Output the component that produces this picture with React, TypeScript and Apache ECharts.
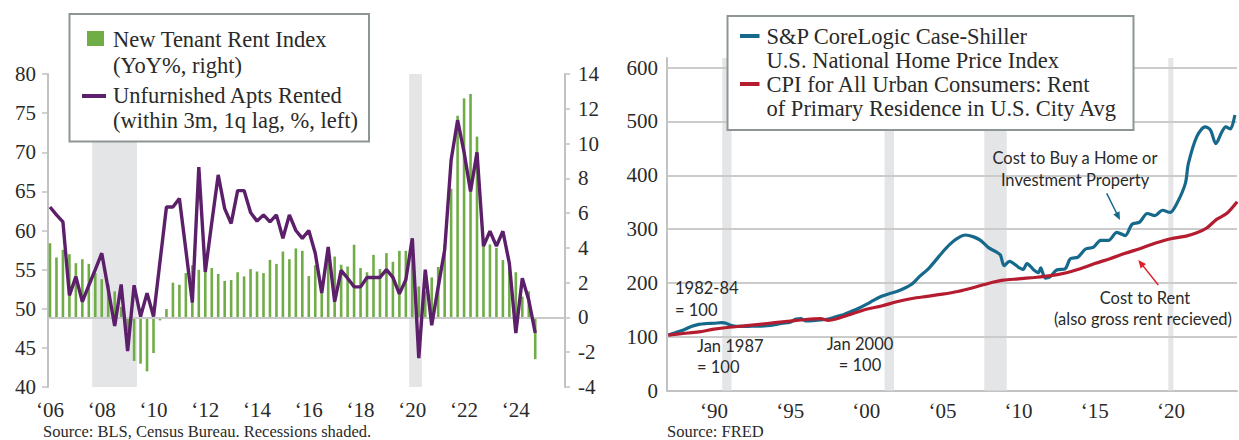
import React, { useEffect, useRef } from "react";
import * as echarts from "echarts";

// ---------------- Left panel: quarterly data starting 2006 Q1 ----------------
const firstQuarterYear = 2006;
// New Tenant Rent Index, YoY % (right axis)
const newTenantRentYoY = [
  4.27, 3.45, 3.89, 3.64, 3.12, 3.35, 3.08, 2.55, 2.2, 1.9,
  1.5, 0.6, -0.8, -2.5, -2.66, -3.1, -2.05, -0.17, 0.48, 2.0,
  1.88, 2.55, 3.0, 2.74, 2.7, 2.84, 2.5, 2.1, 2.15, 2.6,
  2.36, 2.78, 2.64, 2.55, 3.31, 3.08, 3.79, 3.35, 3.97, 3.83,
  2.38, 3.0, 2.07, 3.5, 3.5, 3.03, 2.93, 4.18, 2.84, 2.6,
  3.6, 2.78, 3.7, 3.2, 3.83, 3.83, 4.0, 1.78, 1.5, 2.3,
  2.9, 4.2, 7.4, 11.6, 12.6, 12.85, 10.4, 4.5, 4.2, 4.0,
  3.3, 2.9, 2.6, 1.2, 1.5, -2.4,
];
// Unfurnished Apts Rented within 3 months, 1q lag, % (left axis)
const unfurnishedAptsRented = [
  63.0, 62.0, 61.1, 51.7, 54.1, 50.9, 53.0, 55.0, 57.1, 52.5,
  47.8, 53.1, 44.6, 53.0, 49.0, 52.0, 49.0, 56.0, 63.0, 63.0,
  64.1, 57.5, 50.8, 68.1, 54.7, 61.0, 67.1, 62.8, 60.9, 65.1,
  65.1, 62.3, 61.2, 62.0, 61.1, 62.0, 59.0, 62.0, 60.0, 59.0,
  60.0, 57.1, 52.0, 57.9, 50.9, 54.9, 53.9, 52.8, 52.8, 54.0,
  54.0, 54.0, 55.0, 54.0, 51.9, 53.7, 59.0, 43.7, 55.0, 47.9,
  52.8, 57.5, 69.0, 74.1, 70.0, 65.0, 70.0, 58.0, 59.9, 58.0,
  59.9, 55.8, 46.9, 53.9, 51.1, 46.9,
];
const leftYearTicks = [2006, 2008, 2010, 2012, 2014, 2016, 2018, 2020, 2022, 2024];
const leftRecessions: [number, number][] = [
  [2007.63, 2009.36],
  [2019.88, 2020.37],
];

// ---------------- Right panel ----------------
const caseShiller: [number, number][] = [
  [1987.0, 103], [1987.5, 108], [1988.0, 112.5], [1988.5, 119], [1989.0, 123],
  [1989.5, 124.5], [1990.0, 125], [1990.5, 126], [1990.8, 125], [1991.05, 121.5],
  [1991.5, 119], [1992.0, 119], [1992.5, 119.5], [1993.0, 119.5], [1993.5, 120.5],
  [1994.0, 122.5], [1994.5, 125], [1995.0, 127], [1995.4, 133], [1995.7, 133.5],
  [1996.0, 129.5], [1996.5, 130], [1997.0, 131], [1997.5, 133], [1998.0, 137],
  [1998.5, 141], [1999.0, 147], [1999.5, 153], [2000.0, 160], [2000.5, 168],
  [2001.0, 175], [2001.5, 180], [2002.0, 184], [2002.5, 190], [2003.0, 198],
  [2003.5, 212], [2004.0, 224], [2004.5, 240], [2005.0, 257], [2005.5, 272],
  [2006.0, 283], [2006.5, 289], [2007.0, 286], [2007.5, 279], [2008.0, 266],
  [2008.5, 258], [2008.8, 252], [2009.05, 232], [2009.4, 240], [2010.0, 229],
  [2010.3, 225], [2010.55, 236], [2011.0, 224], [2011.3, 219], [2011.45, 228],
  [2011.75, 209], [2012.05, 211], [2012.5, 224], [2013.05, 226], [2013.4, 245],
  [2013.9, 248], [2014.4, 263], [2014.9, 266], [2015.4, 279], [2015.9, 279],
  [2016.45, 294], [2017.0, 288], [2017.45, 309], [2017.95, 313], [2018.45, 329],
  [2018.95, 325], [2019.45, 335], [2019.95, 331], [2020.4, 348], [2020.95, 385],
  [2021.15, 422], [2021.7, 472], [2022.25, 490], [2022.6, 484], [2022.95, 459],
  [2023.35, 481], [2023.6, 490], [2023.9, 486], [2024.2, 512],
];
const cpiRent: [number, number][] = [
  [1987.0, 103], [1988.0, 106], [1989.0, 109], [1990.0, 114], [1991.0, 117.5],
  [1992.0, 120], [1993.0, 123], [1994.0, 126], [1995.0, 129], [1996.0, 132],
  [1997.0, 133.5], [1997.5, 130.5], [1998.0, 133], [1999.0, 142], [2000.0, 151],
  [2001.0, 157], [2002.0, 165], [2003.0, 171], [2004.0, 175], [2005.0, 179],
  [2006.0, 184], [2007.0, 191], [2008.0, 199], [2009.0, 205], [2010.0, 207.5],
  [2011.0, 210], [2012.0, 213], [2013.0, 218], [2014.0, 226], [2015.0, 236],
  [2016.0, 245], [2017.0, 255], [2018.0, 264], [2019.0, 274], [2020.0, 282],
  [2021.0, 287], [2021.7, 293], [2022.35, 302], [2023.0, 318], [2023.66, 329],
  [2024.35, 351],
];
const rightYearTicks = [1990, 1995, 2000, 2005, 2010, 2015, 2020];
const rightValueTicks = [0, 100, 200, 300, 400, 500, 600];
const rightRecessions: [number, number][] = [
  [1990.54, 1991.15],
  [2001.2, 2001.82],
  [2007.75, 2009.22],
  [2019.83, 2020.16],
];

const GREEN = "#70ad47";
const PURPLE = "#5c1f6a";
const BLUE = "#17698c";
const RED = "#b51c30";
const AXIS_GRAY = "#c2c2c2";
const SHADE = "#e4e5e7";
const TEXT = "#2a2a2a";
const SERIF_NAME = "Liberation Serif";
const SERIF = '"Liberation Serif", serif';
const SANS = 'Lato, "Open Sans", sans-serif';

const yy = (v: number) => "\u2018" + String(Math.round(v)).slice(2);

function buildOption() {
  const barData = newTenantRentYoY.map((v, i) => [firstQuarterYear + i / 4, v]);
  const lineData = unfurnishedAptsRented.map((v, i) => [firstQuarterYear + i / 4, v]);

  const txt = (x: number, y: number, text: string, font: string, align = "left", fill = TEXT) => ({
    type: "text",
    x,
    y,
    z: 100,
    silent: true,
    style: { text, font, fill, align, verticalAlign: "middle", textAlign: align, textVerticalAlign: "middle" },
  });
  const legendFont = `22.5px ${SERIF}`;
  const legendFontR = `22.5px ${SERIF}`;
  const annFont = `16.5px ${SANS}`;

  const graphic: any[] = [
    // left legend
    { type: "rect", z: 99, shape: { x: 69.5, y: 14, width: 299.5, height: 127.5 }, style: { fill: "#fff", stroke: "#8e9595", lineWidth: 2 } },
    { type: "rect", z: 100, shape: { x: 87, y: 31, width: 17, height: 15 }, style: { fill: GREEN } },
    txt(113, 39.5, "New Tenant Rent Index", legendFont),
    txt(113, 65, "(YoY%, right)", legendFont),
    { type: "line", z: 100, shape: { x1: 82, y1: 96, x2: 106, y2: 96 }, style: { stroke: PURPLE, lineWidth: 4 } },
    txt(113, 95, "Unfurnished Apts Rented", legendFont),
    txt(113, 120, "(within 3m, 1q lag, %, left)", legendFont),
    // right legend
    { type: "rect", z: 99, shape: { x: 727.5, y: 16, width: 406, height: 114 }, style: { fill: "#fff", stroke: "#8e9595", lineWidth: 2 } },
    { type: "line", z: 100, shape: { x1: 740, y1: 36, x2: 759.5, y2: 36 }, style: { stroke: BLUE, lineWidth: 4 } },
    txt(766.5, 36, "S&P CoreLogic Case-Shiller", legendFontR),
    txt(766.5, 60, "U.S. National Home Price Index", legendFontR),
    { type: "line", z: 100, shape: { x1: 740, y1: 84, x2: 759.5, y2: 84 }, style: { stroke: RED, lineWidth: 4 } },
    txt(766.5, 84, "CPI for All Urban Consumers: Rent", legendFontR),
    txt(766.5, 108, "of Primary Residence in U.S. City Avg", legendFontR),
    // annotations right
    txt(1075, 158, "Cost to Buy a Home or", annFont, "center"),
    txt(1075, 180, "Investment Property", annFont, "center"),
    { type: "line", z: 100, shape: { x1: 1106.7, y1: 193.3, x2: 1117, y2: 214 }, style: { stroke: BLUE, lineWidth: 1.5 } },
    { type: "polygon", z: 100, shape: { points: [[1120, 220], [1113.3, 214.4], [1119.5, 211.2]] }, style: { fill: BLUE } },
    txt(1145, 298, "Cost to Rent", annFont, "center"),
    txt(1143, 319, "(also gross rent recieved)", annFont, "center"),
    { type: "line", z: 100, shape: { x1: 1158.3, y1: 285, x2: 1142, y2: 264.6 }, style: { stroke: "#e0202a", lineWidth: 1.5 } },
    { type: "polygon", z: 100, shape: { points: [[1138.3, 260], [1146.0, 264.0], [1140.6, 268.4]] }, style: { fill: "#e0202a" } },
    txt(675, 288, "1982-84", annFont),
    txt(675, 310, "= 100", annFont),
    txt(697, 346, "Jan 1987", annFont),
    txt(697, 367, "= 100", annFont),
    txt(860, 344, "Jan 2000", annFont, "center"),
    txt(860, 365, "= 100", annFont, "center"),
    // sources
    txt(43, 431.5, "Source: BLS, Census Bureau. Recessions shaded.", `16.5px ${SERIF}`),
    txt(667, 431.5, "Source: FRED", `16.5px ${SERIF}`),
  ];

  const axisLine = { show: true, lineStyle: { color: AXIS_GRAY, width: 2 } };
  const labelStyle = { color: TEXT, fontSize: 21, fontFamily: SERIF_NAME };

  return {
    animation: false,
    backgroundColor: "#fff",
    textStyle: { fontFamily: SERIF_NAME },
    graphic,
    grid: [
      { left: 48, top: 74, width: 517, height: 313 },
      { left: 667, top: 58, width: 570, height: 332.5 },
    ],
    xAxis: [
      {
        type: "value",
        gridIndex: 0,
        min: 2005.923,
        max: 2025.9,
        axisLine,
        axisTick: { show: false },
        splitLine: { show: false },
        axisLabel: { ...labelStyle, margin: 12, customValues: leftYearTicks, formatter: (v: number) => yy(v) },
      },
      {
        type: "value",
        gridIndex: 1,
        min: 1986.914,
        max: 2024.34,
        axisLine,
        axisTick: { show: false },
        splitLine: { show: false },
        axisLabel: { ...labelStyle, margin: 10, customValues: rightYearTicks, formatter: (v: number) => yy(v) },
      },
    ],
    yAxis: [
      {
        type: "value",
        gridIndex: 0,
        position: "left",
        min: 40,
        max: 80,
        interval: 5,
        axisLine,
        axisTick: { show: true, length: 6, lineStyle: { color: AXIS_GRAY, width: 1.5 } },
        splitLine: { show: false },
        axisLabel: { ...labelStyle, margin: 12 },
      },
      {
        type: "value",
        gridIndex: 0,
        position: "right",
        min: -4,
        max: 14,
        interval: 2,
        axisLine,
        axisTick: { show: true, length: 5, lineStyle: { color: AXIS_GRAY, width: 1.5 } },
        splitLine: { show: false },
        axisLabel: { ...labelStyle, margin: 13 },
      },
      {
        type: "value",
        gridIndex: 1,
        position: "left",
        min: 0,
        max: 618,
        axisLine,
        axisTick: { show: false },
        splitLine: { show: false },
        axisLabel: { ...labelStyle, margin: 9, customValues: rightValueTicks },
      },
    ],
    series: [
      {
        name: "New Tenant Rent Index",
        type: "bar",
        xAxisIndex: 0,
        yAxisIndex: 1,
        data: barData,
        barWidth: 2.6,
        itemStyle: { color: GREEN },
        z: 3,
        markArea: {
          silent: true,
          itemStyle: { color: SHADE },
          data: leftRecessions.map(([a, b]) => [{ xAxis: a }, { xAxis: b }]),
        },
        markLine: {
          silent: true,
          symbol: "none",
          label: { show: false },
          lineStyle: { color: "#c9c9c9", width: 2, type: "solid" },
          data: [{ yAxis: 0 }],
        },
      },
      {
        name: "Unfurnished Apts Rented",
        type: "line",
        xAxisIndex: 0,
        yAxisIndex: 0,
        data: lineData,
        symbol: "none",
        lineStyle: { color: PURPLE, width: 3.4 },
        z: 10,
      },
      {
        name: "S&P CoreLogic Case-Shiller",
        type: "line",
        xAxisIndex: 1,
        yAxisIndex: 2,
        data: caseShiller,
        symbol: "none",
        smooth: 0.3,
        lineStyle: { color: BLUE, width: 3.2 },
        z: 10,
        markArea: {
          silent: true,
          itemStyle: { color: SHADE },
          data: rightRecessions.map(([a, b]) => [{ xAxis: a }, { xAxis: b }]),
        },
        markLine: {
          silent: true,
          symbol: "none",
          label: { show: false },
          lineStyle: { color: "#cbcbcb", width: 2, type: "solid" },
          data: rightValueTicks.slice(1).map((v) => ({ yAxis: v })),
        },
      },
      {
        name: "CPI Rent",
        type: "line",
        xAxisIndex: 1,
        yAxisIndex: 2,
        data: cpiRent,
        symbol: "none",
        smooth: 0.3,
        lineStyle: { color: RED, width: 3.2 },
        z: 11,
      },
    ],
  };
}

export default function App() {
  const ref = useRef<HTMLDivElement>(null);
  useEffect(() => {
    if (!ref.current) return;
    const chart = echarts.init(ref.current, undefined, { renderer: "svg" });
    chart.setOption(buildOption() as any);
    return () => chart.dispose();
  }, []);
  return (
    <div
      ref={ref}
      style={{ position: "absolute", left: 0, top: 0, width: 1239, height: 440, background: "#fff" }}
    />
  );
}
